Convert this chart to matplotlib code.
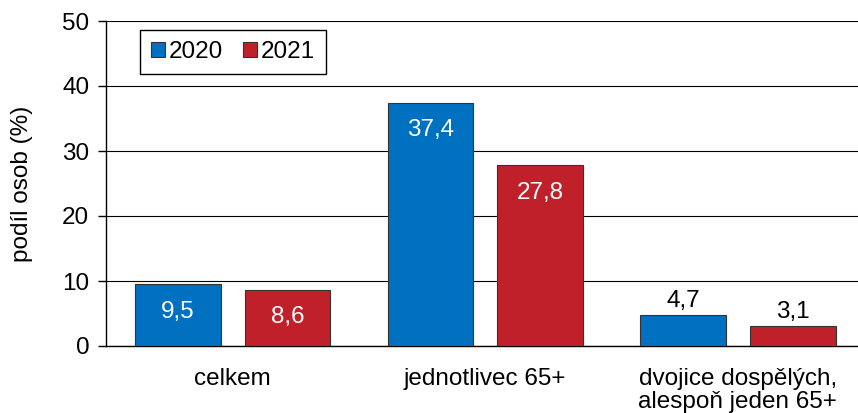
import matplotlib
matplotlib.use("Agg")
import matplotlib.pyplot as plt
import numpy as np

plt.rcParams['font.family'] = ['Liberation Sans', 'DejaVu Sans']

categories = ["celkem", "jednotlivec 65+", "dvojice dospělých,\nalespoň jeden 65+"]
years = ["2020", "2021"]
values_2020 = [9.5, 37.4, 4.7]
values_2021 = [8.6, 27.8, 3.1]
yticks = [0, 10, 20, 30, 40, 50]

colors = ["#0070C0", "#C0202A"]
FS = 17.5

fig = plt.figure(figsize=(8.58, 4.13), dpi=100)
ax = fig.add_axes([106/858, 1-346/413, 1-106/858, (346-21)/413])

x = np.arange(len(categories))
w = 0.34
off = 0.217
series = [values_2020, values_2021]
for i, (vals, c, lab) in enumerate(zip(series, colors, years)):
    pos = x + (-off if i == 0 else off)
    ax.bar(pos, vals, width=w, color=c, edgecolor="#333333", linewidth=0.8,
           label=lab, zorder=3)
    for xb, v in zip(pos, vals):
        txt = f"{v:.1f}".replace(".", ",")
        if v > 6:
            ax.text(xb, v - 4.2, txt, ha="center", va="center", color="white", fontsize=FS)
        else:
            ax.text(xb, v + 2.2, txt, ha="center", va="center", color="black", fontsize=FS)

ax.set_xlim(-0.502, 2.476)
ax.set_ylim(0, 50)
ax.set_yticks(yticks)
ax.set_yticklabels([str(t) for t in yticks], fontsize=FS)
ax.set_xticks(x)
ax.set_xticklabels(categories, fontsize=FS, linespacing=1.05)
ax.tick_params(axis="x", length=0, pad=16)
ax.tick_params(axis="y", length=6, width=1, direction="out", pad=6)
ax.set_ylabel("podíl osob (%)", fontsize=FS, labelpad=21)
ax.grid(axis="y", color="black", linewidth=0.8, zorder=0)
ax.set_axisbelow(True)
for s in ["top", "right"]:
    ax.spines[s].set_visible(False)
ax.spines["left"].set_linewidth(1)
ax.spines["bottom"].set_linewidth(1)

leg = ax.legend(loc="upper left", bbox_to_anchor=(0.045, 0.972), ncol=2, fontsize=FS,
                frameon=True, fancybox=False, edgecolor="black", framealpha=1,
                handlelength=0.6, handleheight=0.6, handletextpad=0.15, columnspacing=0.8,
                borderpad=0.45, borderaxespad=0)
leg.get_frame().set_linewidth(1)

fig.savefig("out.png", dpi=100)
